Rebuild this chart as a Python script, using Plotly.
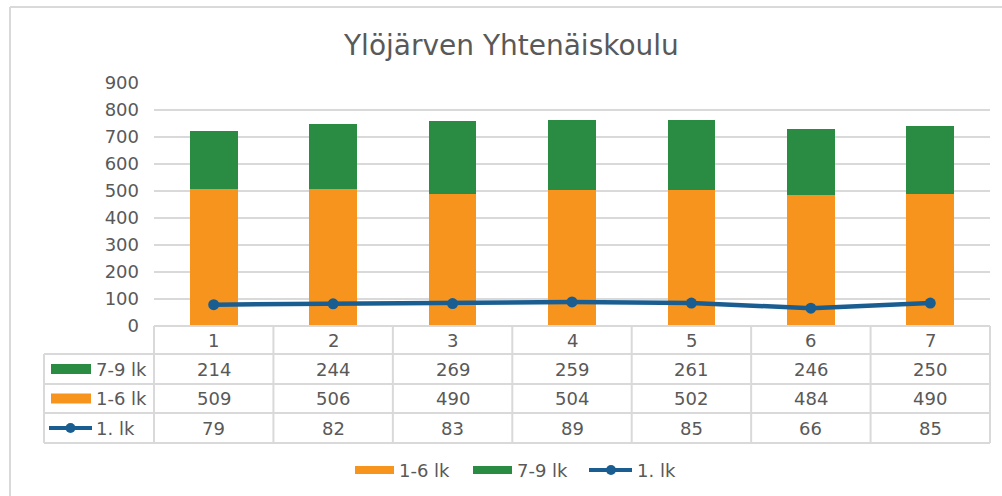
import plotly.graph_objects as go

categories = ["1", "2", "3", "4", "5", "6", "7"]
lk_1_6 = [509, 506, 490, 504, 502, 484, 490]
lk_7_9 = [214, 244, 269, 259, 261, 246, 250]
lk_1 = [79, 82, 83, 89, 85, 66, 85]
y_ticks = [0, 100, 200, 300, 400, 500, 600, 700, 800, 900]

ORANGE = "#F7941D"
GREEN = "#2A8C42"
BLUE = "#1A5E91"
GRID = "#D9D9D9"
TEXT = "#595959"
FONT = "DejaVu Sans"
FS = 18

W, H = 1002, 496
L, R, T, B = 154, 12, 83, 170
PW = W - L - R
PH = H - T - B


def px(x):
    return (x - L) / PW


def py(y):
    return (H - B - y) / PH


fig = go.Figure()
fig.add_trace(go.Bar(x=categories, y=lk_1_6, name="1-6 lk", marker=dict(color=ORANGE, line=dict(width=0)), width=0.4))
fig.add_trace(go.Bar(x=categories, y=lk_7_9, name="7-9 lk", marker=dict(color=GREEN, line=dict(width=0)), width=0.4))
fig.add_trace(go.Scatter(x=categories, y=lk_1, name="1. lk", mode="lines+markers",
                         line=dict(color=BLUE, width=4.5), marker=dict(size=11, color=BLUE)))

shapes = []
annotations = []
n = len(categories)


def text(x, y, s, size=FS, xanchor="center"):
    annotations.append(dict(x=x, y=y, xref="paper", yref="paper", text=s, showarrow=False,
                            xanchor=xanchor, yanchor="middle",
                            font=dict(family=FONT, size=size, color=TEXT)))


def hline(x0, x1, y, color=GRID, width=2):
    shapes.append(dict(type="line", xref="paper", yref="paper", x0=px(x0), x1=px(x1), y0=py(y), y1=py(y),
                       line=dict(color=color, width=width)))


def vline(x, y0, y1, color=GRID, width=2):
    shapes.append(dict(type="line", xref="paper", yref="paper", x0=px(x), x1=px(x), y0=py(y0), y1=py(y1),
                       line=dict(color=color, width=width)))


# outer frame (top and left edges visible)
hline(10, 1010, 7)
vline(10, 7, 510)

# table geometry (pixel rows)
row_edges = [326, 354, 384, 413, 443]
left_x = 44
hline(L, L + PW, row_edges[0])
for ye in row_edges[1:]:
    hline(left_x, L + PW, ye)
vline(left_x, row_edges[1], row_edges[-1])
for i in range(n + 1):
    vline(L + PW * i / n, row_edges[0], row_edges[-1])

rows = [("7-9 lk", lk_7_9, "bar", GREEN), ("1-6 lk", lk_1_6, "bar", ORANGE), ("1. lk", lk_1, "line", BLUE)]

for i, c in enumerate(categories):
    text((i + 0.5) / n, py((row_edges[0] + row_edges[1]) / 2), c)

for r, (label, vals, kind, col) in enumerate(rows):
    yc = (row_edges[r + 1] + row_edges[r + 2]) / 2
    for i, v in enumerate(vals):
        text((i + 0.5) / n, py(yc), str(v))
    text(px(94), py(yc), label, xanchor="left")
    if kind == "bar":
        shapes.append(dict(type="rect", xref="paper", yref="paper", x0=px(51), x1=px(91), y0=py(yc - 5), y1=py(yc + 5),
                           fillcolor=col, line=dict(width=0)))
    else:
        hline(49, 92, yc, color=col, width=4)
        shapes.append(dict(type="circle", xref="paper", yref="paper", x0=px(65.5), x1=px(75.5), y0=py(yc - 5), y1=py(yc + 5),
                           fillcolor=col, line=dict(width=0)))

# bottom legend
leg_y = 470
legend_items = [("1-6 lk", "bar", ORANGE, 355), ("7-9 lk", "bar", GREEN, 473), ("1. lk", "line", BLUE, 589)]
for label, kind, col, x0 in legend_items:
    if kind == "bar":
        shapes.append(dict(type="rect", xref="paper", yref="paper", x0=px(x0), x1=px(x0 + 39), y0=py(leg_y - 4), y1=py(leg_y + 4),
                           fillcolor=col, line=dict(width=0)))
    else:
        hline(x0, x0 + 43, leg_y, color=col, width=4)
        shapes.append(dict(type="circle", xref="paper", yref="paper", x0=px(x0 + 17), x1=px(x0 + 27), y0=py(leg_y - 5), y1=py(leg_y + 5),
                           fillcolor=col, line=dict(width=0)))
    text(px(x0 + 42 if kind == "bar" else x0 + 46), py(leg_y), label, xanchor="left")

# title
text(px(511), py(45), "Ylöjärven Yhtenäiskoulu", size=28)

fig.update_layout(
    width=W, height=H,
    margin=dict(l=L, r=R, t=T, b=B),
    barmode="stack",
    showlegend=False,
    plot_bgcolor="white", paper_bgcolor="white",
    shapes=shapes, annotations=annotations,
    font=dict(family=FONT, size=FS, color=TEXT),
    xaxis=dict(showticklabels=False, showgrid=False, zeroline=False, range=[-0.5, 6.5], fixedrange=True),
    yaxis=dict(range=[0, 900], tickvals=y_ticks, showgrid=True, gridcolor=GRID, gridwidth=1.5,
               zeroline=False, ticks="", ticklabelstandoff=14,
               tickfont=dict(family=FONT, size=FS, color=TEXT)),
)

fig.write_html("out.html", config={"displayModeBar": False},
               post_script="document.body.style.margin='0';document.body.style.overflow='hidden';")
